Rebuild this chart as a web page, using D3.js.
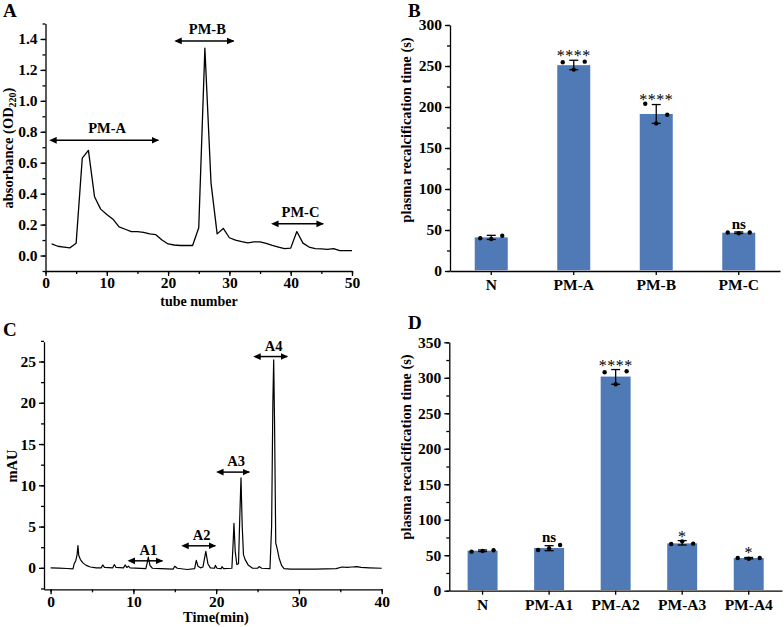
<!DOCTYPE html>
<html>
<head>
<meta charset="utf-8">
<script src="https://cdn.jsdelivr.net/npm/d3@7"></script>
<style>
  body { margin: 0; background: #fff; }
  svg { display: block; }
  text { font-family: "Liberation Serif", "Times New Roman", serif; font-weight: bold; fill: #000; }
</style>
</head>
<body>
<svg id="chart" width="784" height="627"></svg>
<script>
// ---- panel A : gel filtration profile ----
const tubes = d3.range(1, 51);
const absorbance = [0.075, 0.06, 0.055, 0.05, 0.08, 0.63, 0.68, 0.38, 0.30, 0.265,
  0.235, 0.185, 0.17, 0.155, 0.155, 0.15, 0.14, 0.135, 0.10, 0.075,
  0.068, 0.065, 0.065, 0.065, 0.18, 1.34, 0.47, 0.14, 0.175, 0.115,
  0.10, 0.09, 0.082, 0.088, 0.088, 0.078, 0.065, 0.055, 0.045, 0.048,
  0.155, 0.08, 0.055, 0.045, 0.043, 0.04, 0.045, 0.032, 0.032, 0.032];
const poolNamesA = ["PM-A", "PM-B", "PM-C"];
const poolFromA = [1.7, 22.1, 37.9];
const poolToA = [18.4, 30.7, 45.3];
const poolLevelA = [0.745, 1.387, 0.205];

// ---- panel B : recalcification time of pools ----
const groupsB = ["N", "PM-A", "PM-B", "PM-C"];
const meanB = [41, 251, 191.5, 46.7];
const errLowB = [38.5, 245.5, 180, 45.8];
const errHighB = [43.5, 257, 203, 47.6];
const repsB = [[40, 39, 43], [254.5, 245.6, 255.3], [204, 180, 190.6], [47, 46, 47]];
const signifB = ["", "****", "****", "ns"];

// ---- panel C : RP-HPLC chromatogram of PM-A ----
const hplcTime = [0, 1, 2, 2.7, 2.85, 3.05, 3.2, 3.3, 3.4, 3.6, 3.9, 4.3, 4.8, 5.5,
  6.1, 6.3, 6.5, 7.5, 7.7, 7.9, 8.8, 9.0, 9.2, 9.4, 9.6, 11.5, 11.65, 11.8, 12.0, 12.3,
  13.3, 14.8, 15.0, 15.3, 16.5, 17.4, 17.6, 17.8, 18.1, 18.4, 18.75, 19.0, 19.3, 19.8,
  19.9, 20.1, 20.6, 20.7, 20.9, 21.9, 22.05, 22.15, 22.3, 22.5, 22.7, 22.85, 23.0, 23.15,
  23.3, 23.5, 23.9, 24.4, 25.0, 25.2, 25.5, 26.5, 26.7, 26.85, 26.95, 27.05, 27.2, 27.4,
  27.6, 27.9, 28.2, 29, 32, 34.5, 35.2, 35.8, 36.4, 37.0, 37.5, 38.5, 40];
const hplcMAU = [0, -0.03, -0.08, -0.12, 0.5, 0.9, 1.6, 2.7, 1.5, 1.0, 0.6, 0.3, 0.1, 0.0,
  0.0, 0.35, 0.05, 0.0, 0.4, 0.05, 0.0, 0.35, 0.05, 0.2, 0.0, -0.1, 0.5, 1.3, 0.3, -0.05,
  -0.1, -0.15, 0.2, -0.05, -0.2, -0.1, 0.9, 0.2, 0.0, 0.1, 2.0, 0.5, 0.0, -0.05,
  0.3, -0.05, -0.1, 0.15, -0.1, -0.05, 3.0, 5.4, 2.0, 0.4, 0.5, 6.0, 10.9, 5.0,
  1.6, 1.0, 0.3, -0.05, -0.05, 0.15, -0.05, -0.1, 5, 20, 25.2, 18, 3.0, 2.2,
  1.2, 0.3, -0.1, -0.15, -0.15, -0.1, 0.1, 0.05, 0.1, 0.15, 0.05, 0.0, -0.05];
const peakNamesC = ["A1", "A2", "A3", "A4"];
const peakFromC = [10.1, 16.6, 20.8, 25.3];
const peakToC = [13.5, 19.9, 24.0, 28.6];
const peakLevelC = [0.85, 2.67, 11.6, 25.6];

// ---- panel D : recalcification time of sub-fractions ----
const groupsD = ["N", "PM-A1", "PM-A2", "PM-A3", "PM-A4"];
const meanD = [56.4, 60.2, 301.7, 66.7, 46];
const errLowD = [55.2, 56.4, 290.9, 64.4, 44.8];
const errHighD = [57.4, 63.4, 311.6, 70.6, 46.8];
const repsD = [[55, 56, 57], [57.3, 59.7, 64.4], [307.8, 290.9, 309.2], [65.8, 69.5, 66.3], [46, 45, 46]];
const signifD = ["", "ns", "****", "*", "*"];

const barColor = "#4f7ab5";
const svg = d3.select("#chart");

const defs = svg.append("defs");
["start", "end"].forEach(k => {
  defs.append("marker")
    .attr("id", "arrow-" + k)
    .attr("viewBox", "0 0 10 10")
    .attr("refX", k === "end" ? 9 : 1).attr("refY", 5)
    .attr("markerWidth", 5).attr("markerHeight", 5)
    .attr("markerUnits", "strokeWidth")
    .attr("orient", "auto-start-reverse")
    .append("path")
    .attr("d", "M0,0.5 L10,5 L0,9.5 Z")
    .attr("fill", "#000");
});

function styleAxis(g) {
  g.selectAll("path, line").attr("stroke", "#000").attr("stroke-width", 1.3);
  g.selectAll("text").style("font-size", "15.5px").style("font-weight", "bold")
    .style("font-family", "'Liberation Serif', serif").attr("fill", "#000");
}

// left axis with major labelled ticks and unlabelled minor ticks
function leftAxis(x0, y, major, minor, fmt) {
  svg.append("g").attr("transform", `translate(${x0},0)`)
    .call(d3.axisLeft(y).tickValues(minor).tickSize(3).tickSizeOuter(0).tickFormat(""))
    .call(g => g.select(".domain").remove())
    .call(styleAxis);
  svg.append("g").attr("transform", `translate(${x0},0)`)
    .call(d3.axisLeft(y).tickValues(major).tickSize(5).tickSizeOuter(0).tickPadding(3).tickFormat(fmt))
    .call(styleAxis);
}

function bottomAxisLinear(y0, x, major, minor, pad) {
  svg.append("g").attr("transform", `translate(0,${y0})`)
    .call(d3.axisBottom(x).tickValues(minor).tickSize(3).tickSizeOuter(0).tickFormat(""))
    .call(g => g.select(".domain").remove())
    .call(styleAxis);
  svg.append("g").attr("transform", `translate(0,${y0})`)
    .call(d3.axisBottom(x).tickValues(major).tickSize(5).tickSizeOuter(0).tickPadding(pad).tickFormat(d3.format("d")))
    .call(styleAxis);
}

function panelLetter(t, x, y) {
  svg.append("text").attr("x", x).attr("y", y).text(t).style("font-size", "19px");
}

function yTitle(x, y, t) {
  return svg.append("text")
    .attr("transform", `translate(${x},${y}) rotate(-90)`)
    .attr("text-anchor", "middle")
    .style("font-size", "14.5px")
    .text(t);
}

function arrows(x, y, from, to, level, names, labelGap) {
  const g = svg.append("g");
  names.forEach((n, i) => {
    g.append("line")
      .attr("x1", x(from[i])).attr("x2", x(to[i]))
      .attr("y1", y(level[i])).attr("y2", y(level[i]))
      .attr("stroke", "#000").attr("stroke-width", 1.5)
      .attr("marker-start", "url(#arrow-start)")
      .attr("marker-end", "url(#arrow-end)");
    g.append("text")
      .attr("x", (x(from[i]) + x(to[i])) / 2)
      .attr("y", y(level[i]) - labelGap)
      .attr("text-anchor", "middle")
      .style("font-size", "14.5px")
      .text(n);
  });
}

// ================= A =================
{
  const x = d3.scaleLinear([0, 50], [45.5, 352]);
  const y = d3.scaleLinear([-0.1, 1.5], [271, 23.5]);
  leftAxis(45.5, y, d3.range(0, 1.41, 0.2), d3.range(-0.1, 1.51, 0.1), d3.format(".1f"));
  bottomAxisLinear(271, x, [0, 10, 20, 30, 40, 50], d3.range(0, 51, 5), 1);
  svg.append("path")
    .datum(tubes.map((t, i) => [t, absorbance[i]]))
    .attr("fill", "none").attr("stroke", "#000").attr("stroke-width", 1.3)
    .attr("stroke-linejoin", "round")
    .attr("d", d3.line().x(d => x(d[0])).y(d => y(d[1])));
  arrows(x, y, poolFromA, poolToA, poolLevelA, poolNamesA, 7);
  yTitle(13, 148, "absorbance (OD")
    .call(t => t.append("tspan").text("220").style("font-size", "10px").attr("dy", 3))
    .call(t => t.append("tspan").text(")").attr("dy", -3));
  svg.append("text").attr("x", 199).attr("y", 306).attr("text-anchor", "middle")
    .style("font-size", "14px").text("tube number");
  panelLetter("A", 3, 17);
}

// bar panel helper
function barPanel(groups, mean, lo, hi, reps, signif, x0, x1, y0, y1, ymax, major, minor, barFrac, titleY) {
  const x = d3.scaleBand(groups, [x0, x1]);
  const y = d3.scaleLinear([0, ymax], [y0, y1]);
  const bw = x.bandwidth() * barFrac;
  const cx = i => x(groups[i]) + x.bandwidth() / 2;
  leftAxis(x0, y, major, minor, d3.format("d"));
  svg.append("g").attr("transform", `translate(0,${y0})`)
    .call(d3.axisBottom(x).tickSize(4).tickSizeOuter(0).tickPadding(4))
    .call(styleAxis);
  const g = svg.append("g");
  groups.forEach((grp, i) => {
    g.append("rect")
      .attr("x", cx(i) - bw / 2).attr("width", bw)
      .attr("y", y(mean[i])).attr("height", y(0) - y(mean[i]) - 0.7)
      .attr("fill", barColor);
    g.append("line").attr("x1", cx(i)).attr("x2", cx(i))
      .attr("y1", y(lo[i])).attr("y2", y(hi[i]))
      .attr("stroke", "#000").attr("stroke-width", 1.3);
    [lo[i], hi[i]].forEach(v => g.append("line")
      .attr("x1", cx(i) - 4.5).attr("x2", cx(i) + 4.5)
      .attr("y1", y(v)).attr("y2", y(v))
      .attr("stroke", "#000").attr("stroke-width", 1.3));
    reps[i].forEach((v, j) => g.append("circle")
      .attr("cx", cx(i) + (j - 1) * 11).attr("cy", y(v)).attr("r", 2.2).attr("fill", "#000"));
    if (signif[i]) {
      const top = y(Math.max(hi[i], ...reps[i]));
      const stars = signif[i].includes("*");
      g.append("text")
        .attr("x", cx(i)).attr("y", stars ? top + 1 : top - 3)
        .attr("text-anchor", "middle")
        .style("font-size", stars ? "16px" : "15px")
        .style("font-weight", stars ? "normal" : "bold")
        .style("letter-spacing", stars ? "0.5px" : "0")
        .text(signif[i]);
    }
  });
  yTitle(411, titleY, "plasma recalcification time (s)");
}

// ================= B =================
barPanel(groupsB, meanB, errLowB, errHighB, repsB, signifB,
  450, 780, 271, 25, 300, d3.range(0, 301, 50), d3.range(0, 301, 25), 0.4, 130);
panelLetter("B", 408, 17);

// ================= C =================
{
  const x = d3.scaleLinear([-0.8, 40], [44, 381.7]);
  const y = d3.scaleLinear([-2.6, 27.4], [589.3, 341.7]);
  leftAxis(44, y, d3.range(0, 26, 5), d3.range(-2.5, 27.6, 2.5), d3.format("d"));
  bottomAxisLinear(589.3, x, [0, 10, 20, 30, 40], d3.range(0, 41, 5), 2);
  svg.append("path")
    .datum(hplcTime.map((t, i) => [t, hplcMAU[i]]))
    .attr("fill", "none").attr("stroke", "#000").attr("stroke-width", 1.2)
    .attr("stroke-linejoin", "round")
    .attr("d", d3.line().x(d => x(d[0])).y(d => y(d[1])));
  arrows(x, y, peakFromC, peakToC, peakLevelC, peakNamesC, 6);
  yTitle(17, 466, "mAU");
  svg.append("text").attr("x", 216).attr("y", 622).attr("text-anchor", "middle")
    .style("font-size", "14.5px").text("Time(min)");
  panelLetter("C", 3, 336);
}

// ================= D =================
barPanel(groupsD, meanD, errLowD, errHighD, repsD, signifD,
  449.3, 782, 590.7, 342.3, 350, d3.range(0, 351, 50), d3.range(0, 351, 25), 0.45, 447);
panelLetter("D", 408, 329);
</script>
</body>
</html>
